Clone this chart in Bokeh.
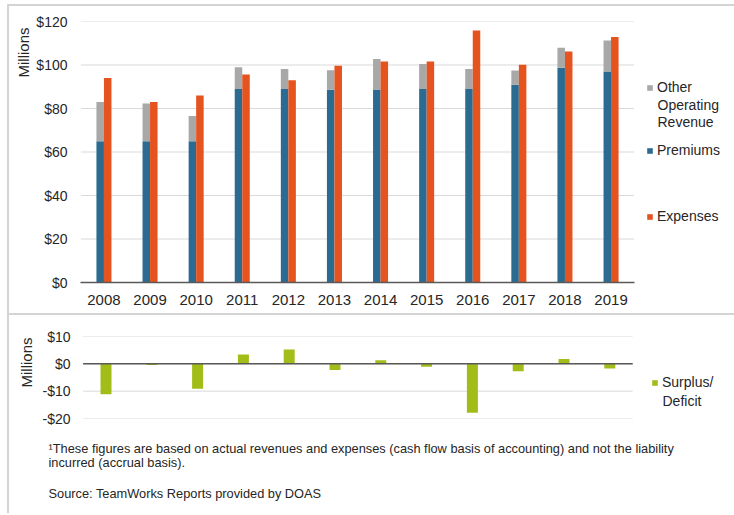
from bokeh.plotting import figure
from bokeh.models import (ColumnDataSource, Range1d, Legend, LegendItem,
                          Label, Title, CustomJSTickFormatter, FixedTicker)
from bokeh.layouts import column
from bokeh.transform import dodge
from bokeh.embed import file_html
from bokeh.resources import INLINE

# ---------------- data ($ millions) ----------------
years = [2008, 2009, 2010, 2011, 2012, 2013, 2014, 2015, 2016, 2017, 2018, 2019]
premiums = [65, 65, 65, 89, 89, 88.6, 88.7, 89, 89, 90.9, 98.7, 97]
other_revenue = [18, 17.3, 11.5, 10, 9.2, 9, 14.1, 11.5, 9.2, 6.6, 9.2, 14.3]
expenses = [94, 83, 86, 95.6, 93, 99.6, 101.6, 101.6, 115.9, 100.1, 106.2, 112.9]
surplus = [-11.1, -0.4, -9.1, 3.4, 5.2, -2.3, 1.3, -1.1, -17.9, -2.7, 1.8, -1.7]
top_ticks = [0, 20, 40, 60, 80, 100, 120]
bottom_ticks = [-20, -10, 0, 10]
footnote_1 = "\u00b9These figures are based on actual revenues and expenses (cash flow basis of accounting) and not the liability"
footnote_2 = "incurred (accrual basis)."
source_note = "Source: TeamWorks Reports provided by DOAS"

# ---------------- style ----------------
FONT = "Liberation Sans"
BLUE = "#2c6b91"
ORANGE = "#e5531f"
GREY = "#a8a8a8"
GREEN = "#a3bd18"
GRID = "#d9d9d9"
AXIS = "#595959"
TXT = "#262626"
FRAME = "#d4d4d4"
W = 725          # figure width (page is 734, the box border/margin takes 9)
LEFT = 71        # shared left border -> plot frames start at page x = 80

money = CustomJSTickFormatter(code="return (tick < 0 ? '-$' : '$') + Math.abs(tick);")
x_lo, x_hi = years[0] - 0.5, years[-1] + 0.5

src = ColumnDataSource(dict(
    year=years,
    premiums=premiums,
    total=[p + o for p, o in zip(premiums, other_revenue)],
    expenses=expenses,
))
src2 = ColumnDataSource(dict(year=years, surplus=surplus))


def base_style(p):
    p.outline_line_color = None
    p.background_fill_color = "white"
    p.border_fill_color = "white"
    p.grid.visible = False


def y_style(p, ticks, skip_zero, standoff):
    ax = p.yaxis[0]
    ax.ticker = FixedTicker(ticks=ticks)
    ax.formatter = money
    ax.axis_line_color = None
    ax.major_tick_line_color = None
    ax.minor_tick_line_color = None
    ax.major_tick_out = 0
    ax.minor_tick_out = 0
    ax.major_label_text_font = FONT
    ax.major_label_text_font_size = "14px"
    ax.major_label_text_color = TXT
    ax.major_label_standoff = standoff
    # horizontal gridlines limited to the category area
    g = [t for t in ticks if not (skip_zero and t == 0)]
    p.segment(x0=[x_lo] * len(g), x1=[x_hi] * len(g), y0=g, y1=g,
              line_color=GRID, line_width=1, level="underlay")


def legend(items, loc):
    return Legend(items=items, location=loc, border_line_color=None,
                  background_fill_alpha=0, padding=0, margin=0, spacing=0,
                  glyph_width=7, glyph_height=7, label_standoff=4,
                  label_height=7, label_width=10,
                  label_text_font=FONT, label_text_font_size="14px",
                  label_text_color=TXT)


def legend_line(p, text, x, y):
    p.add_layout(Label(x=x, y=y, x_units="screen", y_units="screen", text=text,
                       text_align="left", text_baseline="middle",
                       text_font=FONT, text_font_size="14px", text_color=TXT))


def millions(p, offset, standoff):
    p.add_layout(Title(text="Millions", align="right", offset=offset,
                       text_font=FONT, text_font_size="15px",
                       text_font_style="normal", text_color=TXT, standoff=standoff), "left")


LEG_X = 566
TEXT_X = LEG_X + 11

# ---------------- top chart ----------------
t_start = x_lo - (80.4 - (LEFT + 9)) / 46.1
top = figure(x_range=Range1d(t_start, t_start + (W - LEFT) / 46.1),
             y_range=Range1d(0, 120),
             width=W, height=307, output_backend="svg", toolbar_location=None,
             min_border_left=LEFT, min_border_right=0, min_border_top=15,
             min_border_bottom=31)
base_style(top)
y_style(top, top_ticks, True, 13)

BW = 0.163
r_prem = top.vbar(x=dodge("year", -BW / 2), bottom=0, top="premiums",
                  width=BW, fill_color=BLUE, line_color=None, source=src)
r_other = top.vbar(x=dodge("year", -BW / 2), bottom="premiums", top="total",
                   width=BW, fill_color=GREY, line_color=None, source=src)
r_exp = top.vbar(x=dodge("year", BW / 2), bottom=0, top="expenses",
                 width=BW, fill_color=ORANGE, line_color=None, source=src)

xa = top.xaxis[0]
xa.ticker = FixedTicker(ticks=years)
xa.bounds = (x_lo, x_hi)
xa.axis_line_color = AXIS
xa.axis_line_width = 1.5
xa.major_tick_line_color = None
xa.minor_tick_line_color = None
xa.major_tick_out = 0
xa.minor_tick_out = 0
xa.major_label_text_font = FONT
xa.major_label_text_font_size = "15px"
xa.major_label_text_color = TXT
xa.major_label_standoff = 12

top.add_layout(legend([LegendItem(label="Other", renderers=[r_other])], (LEG_X, 187)))
legend_line(top, "Operating", TEXT_X, 178)
legend_line(top, "Revenue", TEXT_X, 161)
top.add_layout(legend([LegendItem(label="Premiums", renderers=[r_prem])], (LEG_X, 124)))
top.add_layout(legend([LegendItem(label="Expenses", renderers=[r_exp])], (LEG_X, 58)))
millions(top, 6, 4)

# ---------------- bottom chart (with the notes under it) ----------------
b_start = x_lo - (82.6 - (LEFT + 9)) / 45.8
bot = figure(x_range=Range1d(b_start, b_start + (W - LEFT) / 45.8),
             y_range=Range1d(-20, 10),
             width=W, height=200, output_backend="svg", toolbar_location=None,
             min_border_left=LEFT, min_border_right=0, min_border_top=21,
             min_border_bottom=97, styles={"border-top": "2px solid " + FRAME})
base_style(bot)
y_style(bot, bottom_ticks, False, 10)
bot.xaxis.visible = False

r_sur = bot.vbar(x="year", bottom=0, top="surplus", width=0.24,
                 fill_color=GREEN, line_color=None, source=src2)
bot.segment(x0=[x_lo], x1=[x_hi], y0=[0], y1=[0], line_color=AXIS, line_width=1.5)

bot.add_layout(legend([LegendItem(label="Surplus/", renderers=[r_sur])], (LEG_X + 5, 28)))
legend_line(bot, "Deficit", TEXT_X + 5, 18)
millions(bot, 1, 9)

for txt, yy in [(footnote_1, 131), (footnote_2, 145), (source_note, 176)]:
    bot.add_layout(Label(x=39, y=yy, x_units="canvas", y_units="canvas", text=txt,
                         text_align="left", text_baseline="middle",
                         text_font=FONT, text_font_size="12.8px", text_color=TXT), "below")

layout = column(top, bot, spacing=0,
                styles={"margin-left": "7px", "margin-top": "4px",
                        "border-left": "2px solid " + FRAME,
                        "border-top": "2px solid " + FRAME})

open("out.html", "w").write(file_html(layout, INLINE))
